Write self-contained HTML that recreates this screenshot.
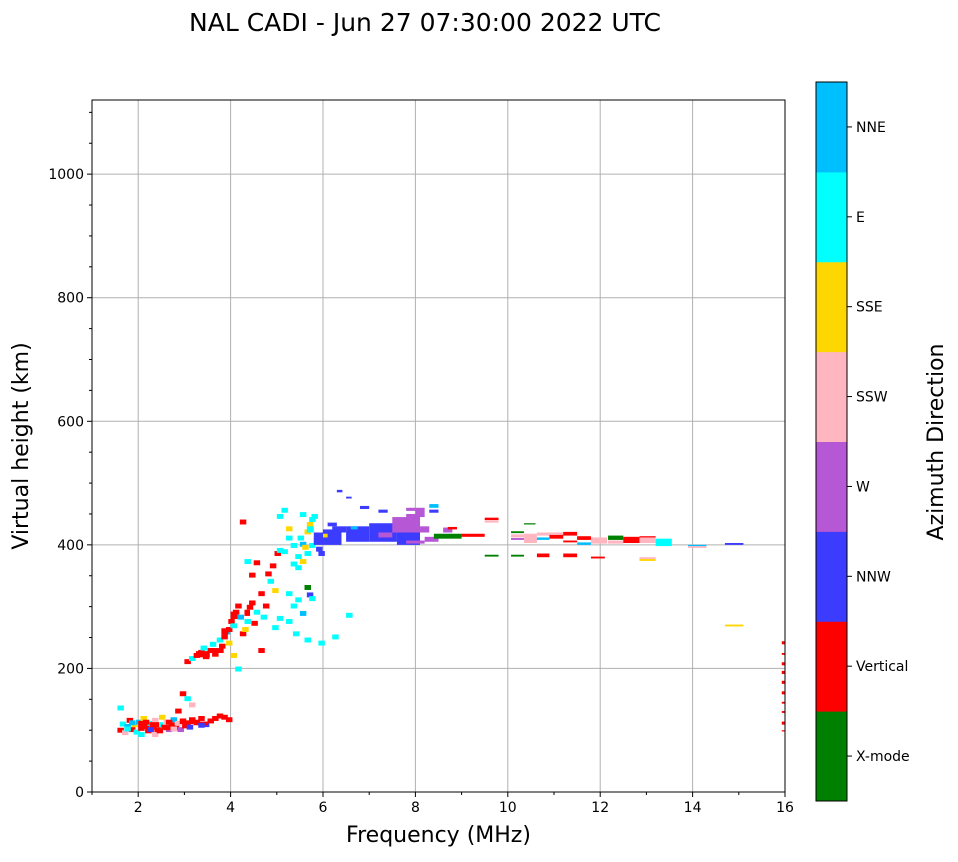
<!DOCTYPE html>
<html><head><meta charset="utf-8"><style>
body{margin:0;background:#fff;font-family:"Liberation Sans","DejaVu Sans",sans-serif}
svg text{font-family:"DejaVu Sans","Liberation Sans",sans-serif}
</style></head><body>
<svg id="c" width="958" height="857" viewBox="0 0 958 857" xmlns="http://www.w3.org/2000/svg">
<text x="425" y="31" font-size="25" text-anchor="middle">NAL CADI - Jun 27 07:30:00 2022 UTC</text>
<g id="grid"></g><g id="marks"></g><g id="axes"></g><g id="cbar"></g>
</svg>
<script>
const xTicks=[2,4,6,8,10,12,14,16];
const yTicks=[0,200,400,600,800,1000];
const dirLabels=["X-mode","Vertical","NNW","W","SSW","SSE","E","NNE"];
const dirColors=["#008000","#ff0000","#3c3cff","#b657d6","#ffb6c1","#ffd700","#00ffff","#00bfff"];
// [freq MHz, bottom height km, direction index, width MHz (opt), height km (opt)]
const echoes=[
[1.55,96,1],[1.6,106,6],[1.65,92,4],[1.7,102,7],[1.75,112,1],[1.8,97,1],[1.85,105,5],[1.9,93,6],[1.95,109,7],[2.0,99,1],[2.05,115,5],[2.1,102,1],[2.15,95,1],[2.2,107,6],[2.25,101,1],[2.3,112,4],[2.35,97,1],[2.4,105,6],[2.45,117,5],[2.5,101,1],[2.55,109,4],[2.6,97,3],[2.65,105,1],[2.7,113,7],[2.75,100,1],[2.8,107,4],[2.85,97,3],[2.9,111,1],[2.95,103,1],[3.0,107,1],[3.05,101,2],[3.1,113,1],[3.2,109,1],[3.3,115,1],[3.4,105,2],[3.5,111,1],[3.6,115,1],[3.7,119,1],[3.8,117,1],[3.9,113,1],[2.9,155,1],[3.0,147,6],[3.1,137,4],[2.8,127,1],[1.55,132,6],[2.0,89,6],[2.3,89,4],[2.1,109,1],[2.2,97,2],[2.4,95,1],[2.6,109,1],
[2.0,105,1,0.2,10],[2.25,105,1,0.2,8],[2.55,100,1,0.25,8],[2.9,110,1,0.3,6],[3.2,108,1,0.3,6],[1.7,98,6],[1.8,108,7],[2.7,98,4],[3.3,104,2],
[3.0,207,1],[3.1,212,6],[3.2,217,1],[3.3,222,1],[3.35,229,6],[3.4,215,1],[3.5,225,1],[3.55,235,6],[3.6,219,1],[3.7,242,6],[3.75,232,1],[3.8,247,1],[3.85,255,7],[3.9,259,1],[3.95,272,1],[4.0,265,6],[4.05,287,1],[4.1,297,1],[4.15,279,7],[4.2,252,1],[4.25,259,5],[4.3,272,6],[4.35,295,1],[4.4,302,1],[4.45,269,1],[4.5,287,6],[4.6,317,1],[4.65,279,6],[4.7,297,1],[4.75,349,1],[4.8,337,6],[4.85,362,1],[4.9,322,5],[4.95,382,1],[4.4,347,1],[4.5,367,1],[4.3,369,6],[4.2,433,1],[4.1,195,6],[4.6,225,1],[4.0,217,5],[3.9,237,5],
[3.25,218,1,0.3,10],[3.55,225,1,0.3,8],[3.8,255,1,0.15,10],[4.0,280,1,0.15,12],[4.3,285,1,0.12,10],
[5.0,442,6],[5.1,452,6],[5.2,422,5],[5.0,387,6],[5.1,385,6],[5.2,407,6],[5.3,395,6],[5.4,377,6],[5.5,397,7],[5.6,417,5],[5.65,429,5],[5.7,437,6],[5.75,442,6],[5.55,392,5],[5.4,359,6],[5.3,365,6],[5.5,369,5],[5.6,382,6],[5.7,395,6],[5.8,402,6],[5.85,389,2],[5.9,382,2],[5.2,317,6],[5.3,297,6],[5.4,307,6],[5.5,285,7],[5.6,327,0],[5.65,315,2],[5.7,309,6],[5.2,272,6],[5.35,252,6],[5.6,242,6],[5.9,237,6],[6.2,247,6],[6.5,282,6],[5.0,277,6],[4.9,262,6],[5.5,445,6],[5.45,407,6],
[5.8,400,2,0.2,20],[5.65,420,6,0.15,10],
[6.0,400,2,0.4,25],[6.2,420,2,0.3,10],[6.5,405,2,0.5,25],[7.0,405,2,0.6,30],[7.6,400,2,0.5,35],[7.2,412,3,0.3,8],[7.5,420,3,0.6,25],[7.8,440,3,0.3,10],[8.0,445,3,0.2,15],[8.1,420,3,0.2,10],[7.8,402,3,0.4,5],[8.2,405,3,0.3,8],[8.3,460,7,0.2,6],[8.3,452,2,0.2,5],[6.3,485,2,0.12,4],[6.5,475,2,0.12,3],[6.8,458,2,0.2,5],[7.2,452,2,0.2,5],[7.8,455,3,0.2,5],[6.1,430,2,0.2,6],[6.0,412,5,0.1,6],[6.6,425,7,0.15,5],
[8.4,410,0,0.6,8],[8.6,420,3,0.2,8],[8.7,425,1,0.2,4],[9.0,413,1,0.5,5],[9.5,440,1,0.3,4],[9.5,436,4,0.3,3],[9.5,381,0,0.3,3],[10.07,381,0,0.28,3],[10.07,419,0,0.28,3],[10.07,412,4,0.28,5],[10.07,408,3,0.28,3],[10.35,403,4,0.28,15],[10.35,433,0,0.25,2],[10.63,408,7,0.27,4],[10.63,415,4,0.27,5],[10.9,410,1,0.3,8],[10.9,416,4,0.3,4],[11.2,415,1,0.3,6],[11.2,404,1,0.3,3],[11.5,408,1,0.3,6],[11.5,400,7,0.3,4],[11.8,402,4,0.35,10],[12.17,408,0,0.33,7],[12.17,402,4,0.33,5],[12.5,403,1,0.35,10],[12.85,403,4,0.35,10],[12.85,412,1,0.35,2],[13.2,398,6,0.35,12],[13.9,395,4,0.4,3],[13.9,398,7,0.4,2],[14.7,400,2,0.4,3],[14.7,268,5,0.4,3],
[10.63,380,1,0.27,6],[11.2,380,1,0.3,6],[11.8,378,1,0.3,3],[12.85,377,4,0.35,3],[12.85,374,5,0.35,3],
[15.93,239,1,0.07,5],[15.93,222,1,0.07,3],[15.93,205,1,0.07,5],[15.93,191,1,0.07,5],[15.93,175,1,0.07,5],[15.93,158,1,0.07,5],[15.93,143,1,0.07,3],[15.93,128,1,0.07,3],[15.93,109,1,0.07,5],[15.93,98,1,0.07,2]
];
const L=92,R=785,T=100,B=792;
const xs=f=>L+(f-1)*(R-L)/15;
const ys=h=>B-h*(B-T)/1120;
const NS="http://www.w3.org/2000/svg";
function mk(tag,a,parent){const e=document.createElementNS(NS,tag);for(const k in a)e.setAttribute(k,a[k]);parent.appendChild(e);return e;}
const grid=document.getElementById('grid'),marks=document.getElementById('marks'),axes=document.getElementById('axes'),cb=document.getElementById('cbar');
xTicks.forEach(v=>{const g=mk('line',{x1:xs(v),x2:xs(v),y1:T,y2:B,stroke:'#b0b0b0','stroke-width':1},grid);

});
yTicks.forEach(v=>{const g=mk('line',{x1:L,x2:R,y1:ys(v),y2:ys(v),stroke:'#b0b0b0','stroke-width':1},grid);

});
echoes.forEach(d=>{const w=d[3]||0.14,hh=d[4]||8;
const r=mk('rect',{x:xs(d[0]),y:ys(d[1]+hh),width:xs(d[0]+w)-xs(d[0]),height:ys(0)-ys(hh),fill:dirColors[d[2]]},marks);

});
const fr=mk('rect',{x:L,y:T,width:R-L,height:B-T,fill:'none',stroke:'#000','stroke-width':1},axes);


xTicks.forEach(v=>{mk('line',{x1:xs(v),x2:xs(v),y1:B,y2:B+5,stroke:'#000'},axes);
const t=mk('text',{x:xs(v),y:B+20,'font-size':14,'text-anchor':'middle'},axes);t.textContent=v;

});
[1,3,5,7,9,11,13,15].forEach(v=>mk('line',{x1:xs(v),x2:xs(v),y1:B,y2:B+3,stroke:'#000'},axes));
yTicks.forEach(v=>{mk('line',{x1:L-5,x2:L,y1:ys(v),y2:ys(v),stroke:'#000'},axes);
const t=mk('text',{x:L-8,y:ys(v)+5,'font-size':14,'text-anchor':'end'},axes);t.textContent=v;

});
for(let v=50;v<1120;v+=50){if(v%200)mk('line',{x1:L-3,x2:L,y1:ys(v),y2:ys(v),stroke:'#000'},axes);}
let t=mk('text',{x:(L+R)/2,y:842,'font-size':22,'text-anchor':'middle'},axes);t.textContent='Frequency (MHz)';


t=mk('text',{x:28,y:446,'font-size':22,'text-anchor':'middle',transform:'rotate(-90 28 446)'},axes);t.textContent='Virtual height (km)';


const cT=82,cB=801,cL=816,cW=31,seg=(cB-cT)/dirLabels.length;
dirLabels.forEach((lab,i)=>{const y0=cB-(i+1)*seg;
const r=mk('rect',{x:cL,y:y0,width:cW,height:seg+0.5,fill:dirColors[i]},cb);


mk('line',{x1:cL+cW,x2:cL+cW+5,y1:y0+seg/2,y2:y0+seg/2,stroke:'#000'},cb);
const tx=mk('text',{x:cL+cW+9,y:y0+seg/2+5,'font-size':14},cb);tx.textContent=lab;

});
mk('rect',{x:cL,y:cT,width:cW,height:cB-cT,fill:'none',stroke:'#000'},cb);
t=mk('text',{x:943,y:442,'font-size':22,'text-anchor':'middle',transform:'rotate(-90 943 442)'},cb);t.textContent='Azimuth Direction';


</script>
</body></html>
